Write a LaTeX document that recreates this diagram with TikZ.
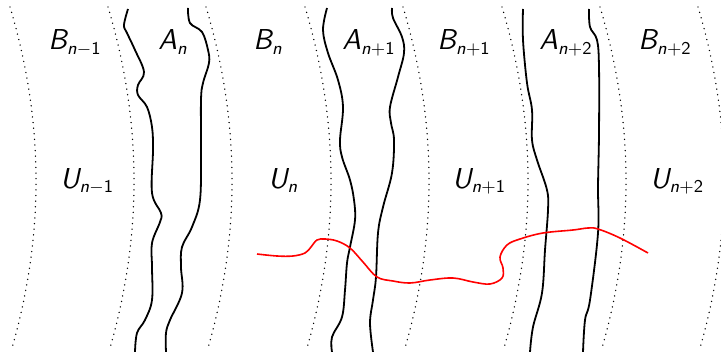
\documentclass[tikz,border=0pt]{standalone}
\DeclareMathAlphabet{\mathsfit}{OT1}{cmss}{m}{sl}
\newcommand\lbl[2]{$\mathsfit{#1}_{\mathsfit{n}#2}$}
\begin{document}
\begin{tikzpicture}[x=0.5pt,y=-0.5pt,
  dotarc/.style={line width=0.75pt,line cap=round,dash pattern=on 0.01pt off 2.8pt},
  wavy/.style={line width=0.9pt},
  redline/.style={line width=0.8pt,red},
  lab/.style={anchor=base west,inner sep=0pt,font=\fontsize{13.5}{16}\selectfont}]
\useasboundingbox (0,0) rectangle (721,352);
\clip (0,0) rectangle (721,352);
% dotted arcs
\foreach \x in {10,108,206,305,403,502,600,698}{
  \draw[dotarc] (\x,7) .. controls (\x+34,120.7) and (\x+34.7,234.3) .. (\x+2,348);
}
% A_n
\draw[wavy] plot[smooth,tension=0.6] coordinates {(128,9) (124,25) (127,33) (135,50) (144,72) (138,85) (138,95) (147,107) (152,127) (153,150) (152,193) (161,213) (160,222) (152,243) (152,267) (152,300) (145,320) (137,333) (135,352)};
\draw[wavy] plot[smooth,tension=0.6] coordinates {(188,8) (190,23) (202,32) (208,50) (209,63) (203,83) (201,100) (201,150) (200,200) (192,227) (182,247) (181,267) (182,293) (170,320) (166,333) (166,352)};
% A_{n+1}
\draw[wavy] plot[smooth,tension=0.6] coordinates {(327,8) (323,30) (328,53) (338,80) (343,107) (340,140) (342,157) (350,180) (354,200) (355,220) (350,247) (347,263) (345,290) (342,317) (332,337) (332,352)};
\draw[wavy] plot[smooth,tension=0.6] coordinates {(392,8) (393,18) (402,37) (404,53) (398,77) (390,107) (391,123) (394,140) (392,173) (383,207) (378,233) (376,277) (373,300) (370,323) (373,352)};
% A_{n+2}
\draw[wavy] plot[smooth,tension=0.6] coordinates {(523,9) (523,40) (527,83) (532,110) (532,140) (537,160) (547,190) (548,210) (545,250) (542,293) (533,327) (530,352)};
\draw[wavy] plot[smooth,tension=0.6] coordinates {(589,9) (590,27) (597,40) (599,67) (599,133) (598,187) (598,233) (590,300) (585,320) (583,352)};
% red curve
\draw[redline] plot[smooth,tension=0.6] coordinates {(257,254) (277,256) (293,256) (305,253) (311,247) (317,240) (325,239) (337,241) (350,248) (363,262) (377,277) (393,281) (410,283) (430,280) (453,278) (473,282) (490,284) (502,278) (503,268) (500,257) (507,245) (520,239) (543,233) (573,230) (588,228) (598,229) (620,238) (648,253)};
% labels
\node[lab] (b1) at (48,50) {\lbl{B}{-\mathsf{1}}};
\node[lab] (a0) at (158,50) {\lbl{A}{}};
\node[lab] (b0) at (253,50) {\lbl{B}{}};
\node[lab] (a1) at (342,50) {\lbl{A}{+\mathsf{1}}};
\node[lab] (b2) at (437,50) {\lbl{B}{+\mathsf{1}}};
\node[lab] (a2) at (539,50) {\lbl{A}{+\mathsf{2}}};
\node[lab] (b3) at (638,50) {\lbl{B}{+\mathsf{2}}};
\node[lab] (u1) at (60,188) {\lbl{U}{-\mathsf{1}}};
\node[lab] (u0) at (268,188) {\lbl{U}{}};
\node[lab] (u2) at (452,188) {\lbl{U}{+\mathsf{1}}};
\node[lab] (u3) at (650,188) {\lbl{U}{+\mathsf{2}}};
\end{tikzpicture}
\end{document}
